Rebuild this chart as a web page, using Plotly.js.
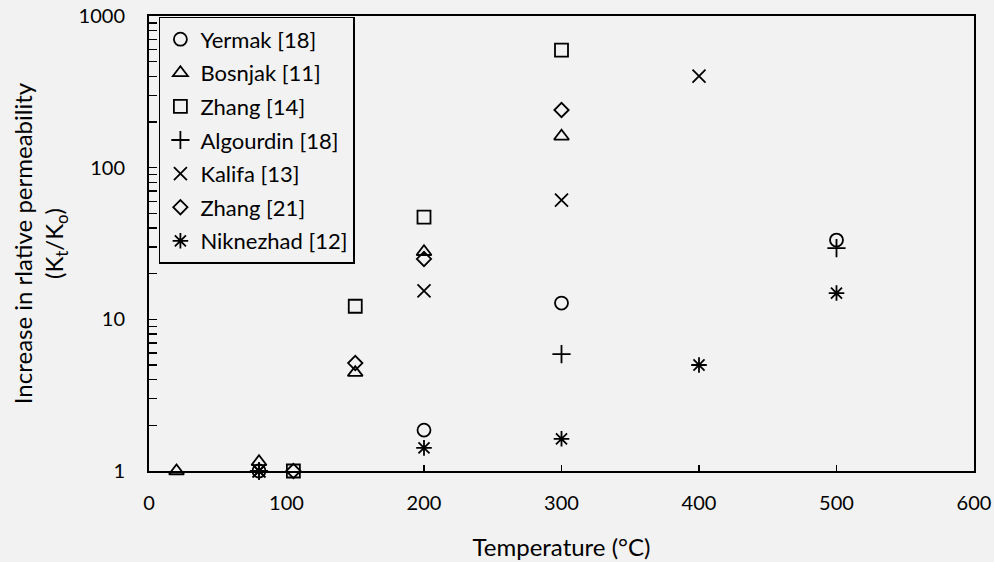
<!DOCTYPE html>
<html>
<head>
<meta charset="utf-8">
<script src="https://cdn.plot.ly/plotly-3.0.1.min.js"></script>
<style>html,body{margin:0;padding:0;background:#f2f2f2;}#chart{width:994px;height:562px;}</style>
</head>
<body>
<div id="chart"></div>
<script>
// Data
const yermakX = [80, 200, 300, 500];
const yermakY = [1, 1.86, 12.8, 33.3];
const bosnjakX = [20, 80, 150, 200, 300];
const bosnjakY = [1, 1.15, 4.45, 27.9, 161];
const zhang14X = [105, 150, 200, 300];
const zhang14Y = [1, 12.2, 47.2, 596];
const algourdinX = [80, 300, 500];
const algourdinY = [1, 5.9, 29.5];
const kalifaX = [80, 200, 300, 400];
const kalifaY = [1, 15.4, 61, 402];
const zhang21X = [105, 150, 200, 300];
const zhang21Y = [1, 5.15, 25, 240];
const niknezhadX = [80, 200, 300, 400, 500];
const niknezhadY = [1, 1.42, 1.63, 5.0, 14.9];

const seriesNames = ['Yermak [18]', 'Bosnjak [11]', 'Zhang [14]', 'Algourdin [18]', 'Kalifa [13]', 'Zhang [21]', 'Niknezhad [12]'];
const seriesX = [yermakX, bosnjakX, zhang14X, algourdinX, kalifaX, zhang21X, niknezhadX];
const seriesY = [yermakY, bosnjakY, zhang14Y, algourdinY, kalifaY, zhang21Y, niknezhadY];
const symbols = ['circle-open', 'triangle-up-open', 'square-open', 'cross-thin-open', 'x-thin-open', 'diamond-open', 'asterisk-open'];
const sizes = [13, 13, 13, 13, 13, 11, 13];

const traces = seriesNames.map((n, i) => ({
  type: 'scatter',
  mode: 'markers',
  name: n,
  legendgroup: 'g' + i,
  x: seriesX[i],
  y: seriesY[i],
  cliponaxis: false,
  marker: {symbol: symbols[i], size: sizes[i], color: 'black', line: {color: 'black', width: 1.8}}
}));

const font = 'Lato, "Open Sans", "Noto Sans", sans-serif';

const layout = {
  width: 994,
  height: 562,
  paper_bgcolor: '#f2f2f2',
  plot_bgcolor: '#f2f2f2',
  font: {family: font, color: '#000', size: 20},
  margin: {l: 149, r: 20, t: 16, b: 91},
  showlegend: true,
  legend: {
    x: 0.012, y: 0.998, xanchor: 'left', yanchor: 'top',
    bgcolor: '#f2f2f2', bordercolor: '#000', borderwidth: 1.5,
    font: {family: font, size: 22, color: '#000'},
    traceorder: 'grouped', tracegroupgap: 2
  },
  xaxis: {
    range: [0, 600], dtick: 100, tick0: 0,
    showgrid: false, zeroline: false,
    showline: true, linecolor: '#000', linewidth: 2, mirror: true,
    ticks: 'inside', ticklen: 6, tickwidth: 1.5, tickcolor: '#000',
    ticklabelstandoff: 13,
    tickfont: {family: font, size: 20},
    title: {text: 'Temperature (°C)', font: {family: font, size: 24}, standoff: 26}
  },
  yaxis: {
    type: 'log', range: [0, 3], dtick: 1,
    showgrid: false, zeroline: false,
    showline: true, linecolor: '#000', linewidth: 2, mirror: true,
    ticks: 'inside', ticklen: 8, tickwidth: 1.5, tickcolor: '#000',
    minor: {ticks: 'inside', ticklen: 8, tickwidth: 1.5, tickcolor: '#000', dtick: 'D1', showgrid: false},
    ticklabelstandoff: 18,
    tickfont: {family: font, size: 20},
    title: {text: 'Increase in rlative permeability<br>(K<sub>t</sub>/K<sub>o</sub>)', font: {family: font, size: 24}, standoff: 8}
  }
};

Plotly.newPlot('chart', traces, layout, {displayModeBar: false, staticPlot: true});
</script>
</body>
</html>
